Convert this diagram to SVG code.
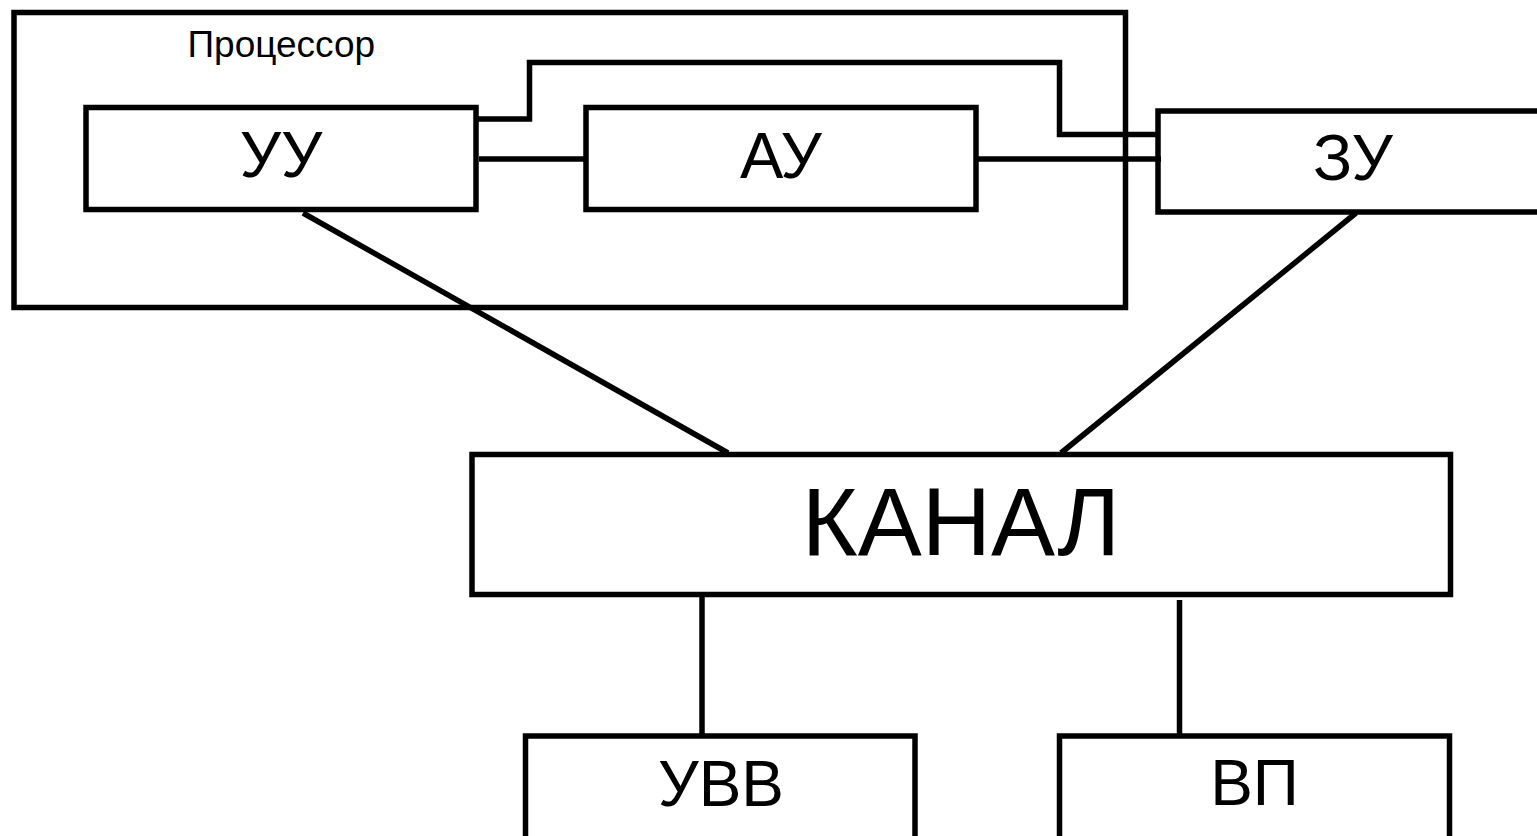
<svg xmlns="http://www.w3.org/2000/svg" width="1537" height="836" viewBox="0 0 1537 836">
<style>
.box{fill:none;stroke:#000;stroke-width:5.5}
.ln{fill:none;stroke:#000;stroke-width:5.5;stroke-linejoin:miter;stroke-linecap:butt}
.t{font-family:"Liberation Sans",Arial,sans-serif;fill:#000;text-anchor:middle}
</style>
<rect width="1537" height="836" fill="#fff"/>
<g id="processor">
<rect class="box" x="14" y="12.5" width="1111.5" height="295"/>
<text class="t" x="187.5" y="56.5" font-size="37" style="text-anchor:start">Процессор</text>
</g>
<g id="connectors">
<path class="ln" d="M476,119 H529.5 V62.5 H1059.5 V134.5 H1158"/>
<path class="ln" d="M479,159 H586"/>
<path class="ln" d="M976,159 H1161"/>
<path class="ln" d="M303,213 L728,453"/>
<path class="ln" d="M1356,213 L1061,453"/>
<path class="ln" d="M702,594 V736"/>
<path class="ln" d="M1179.5,600 V736"/>
</g>
<g id="uu">
<rect class="box" x="86" y="107.5" width="390" height="102"/>
<text class="t" x="281" y="177" font-size="65">УУ</text>
</g>
<g id="au">
<rect class="box" x="586" y="107.5" width="390" height="102"/>
<text class="t" x="781" y="178" font-size="65">АУ</text>
</g>
<g id="zu">
<rect class="box" x="1158" y="111" width="390" height="101"/>
<text class="t" x="1353" y="180" font-size="65">ЗУ</text>
</g>
<g id="kanal">
<rect class="box" x="472" y="454.5" width="978.5" height="140"/>
<text class="t" x="961" y="555" font-size="96">КАНАЛ</text>
</g>
<g id="uvv">
<rect class="box" x="525.5" y="736" width="389.5" height="140"/>
<text class="t" x="721" y="806" font-size="64">УВВ</text>
</g>
<g id="vp">
<rect class="box" x="1059.5" y="736" width="390" height="140"/>
<text class="t" x="1254.5" y="805" font-size="64">ВП</text>
</g>
</svg>
